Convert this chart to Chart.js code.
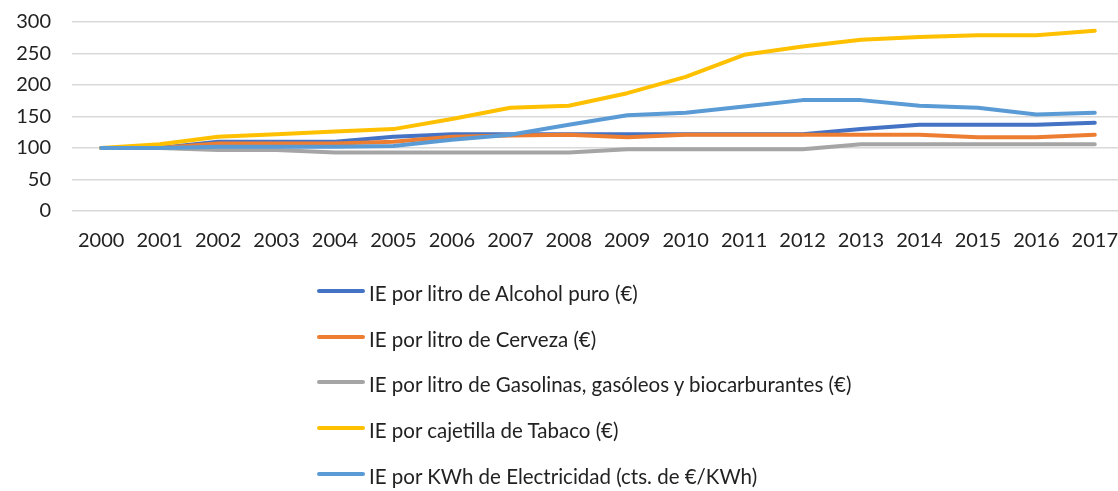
<!DOCTYPE html>
<html>
<head>
<meta charset="utf-8">
<script src="https://cdn.jsdelivr.net/npm/chart.js@4.4.1/dist/chart.umd.min.js"></script>
<style>
    body { margin: 0; background: #fff; overflow: hidden; }
    #wrap { position: relative; width: 1118px; height: 491px; overflow: hidden; }
    #legend {
        position: absolute;
        left: 317px;
        top: 270px;
        font-family: Lato, sans-serif;
        font-size: 20.5px;
        color: #222;
    }
    .legend-row { display: flex; align-items: center; height: 45.8px; white-space: nowrap; }
    .legend-line { width: 48px; height: 4px; border-radius: 2px; margin-right: 4px; position: relative; top: -2px; }
</style>
</head>
<body>
<div id="wrap">
    <canvas id="chart" width="1130" height="491"></canvas>
    <div id="legend"></div>
</div>
<script>
// Years on the x axis
const years = ['2000', '2001', '2002', '2003', '2004', '2005', '2006', '2007', '2008',
    '2009', '2010', '2011', '2012', '2013', '2014', '2015', '2016', '2017'];

// Index values (2000 = 100)
const alcohol = [100, 100, 110, 110, 110, 118, 122, 122, 122, 122, 122, 122, 122, 130, 137, 137, 137, 140];
const cerveza = [100, 100, 107, 107, 107, 110, 118, 120, 121, 117, 121, 121, 121, 121, 121, 117, 117, 121];
const gasolinas = [100, 100, 97, 97, 93, 93, 93, 93, 93, 98, 98, 98, 98, 106, 106, 106, 106, 106];
const tabaco = [100, 106, 118, 122, 126, 130, 146, 164, 167, 187, 213, 248, 261, 272, 276, 279, 279, 286];
const electricidad = [100, 100, 102, 102, 102, 103, 113, 121, 137, 152, 156, 166, 176, 176, 167, 164, 153, 156];

const yTicks = [0, 50, 100, 150, 200, 250, 300];

const series = [
    { label: 'IE por litro de Alcohol puro (€)', data: alcohol, color: '#4472C4' },
    { label: 'IE por litro de Cerveza (€)', data: cerveza, color: '#ED7D31' },
    { label: 'IE por litro de Gasolinas, gasóleos y biocarburantes (€)', data: gasolinas, color: '#A5A5A5' },
    { label: 'IE por cajetilla de Tabaco (€)', data: tabaco, color: '#FFC000' },
    { label: 'IE por KWh de Electricidad (cts. de €/KWh)', data: electricidad, color: '#5B9BD5' }
];

const axisFont = { family: 'Lato, sans-serif', size: 20 };

new Chart(document.getElementById('chart'), {
    type: 'line',
    data: {
        labels: years,
        datasets: series.map((s, i) => ({
            label: s.label,
            data: s.data,
            borderColor: s.color,
            backgroundColor: s.color,
            borderWidth: 4,
            borderCapStyle: 'round',
            borderJoinStyle: 'round',
            pointRadius: 0,
            tension: 0,
            // later series are drawn on top
            order: series.length - i
        }))
    },
    options: {
        responsive: false,
        animation: false,
        devicePixelRatio: 1,
        layout: { padding: { top: 22, bottom: 238, left: 0, right: 6 } },
        plugins: {
            legend: { display: false },
            tooltip: { enabled: false }
        },
        scales: {
            x: {
                offset: true,
                grid: { display: false, drawTicks: false },
                border: { display: false },
                ticks: { color: '#222', font: axisFont, padding: 18, maxRotation: 0, autoSkip: false },
                afterFit(scale) {
                    scale.height = 42;
                    // labels may hang past the plot edges
                    scale.paddingLeft = 0;
                    scale.paddingRight = 0;
                }
            },
            y: {
                min: 0,
                max: 300,
                afterBuildTicks(scale) { scale.ticks = yTicks.map(v => ({ value: v })); },
                grid: { color: '#d9d9d9', lineWidth: 1.5, drawTicks: false },
                border: { display: false },
                ticks: { color: '#222', font: axisFont, padding: 21 },
                afterFit(scale) {
                    scale.width = 72;
                    scale.paddingTop = 0;
                    scale.paddingBottom = 0;
                }
            }
        }
    }
});

// Vertical legend below the chart
const legend = document.getElementById('legend');
series.forEach(s => {
    const row = document.createElement('div');
    row.className = 'legend-row';
    const line = document.createElement('span');
    line.className = 'legend-line';
    line.style.background = s.color;
    const text = document.createElement('span');
    text.textContent = s.label;
    row.appendChild(line);
    row.appendChild(text);
    legend.appendChild(row);
});
</script>
</body>
</html>
